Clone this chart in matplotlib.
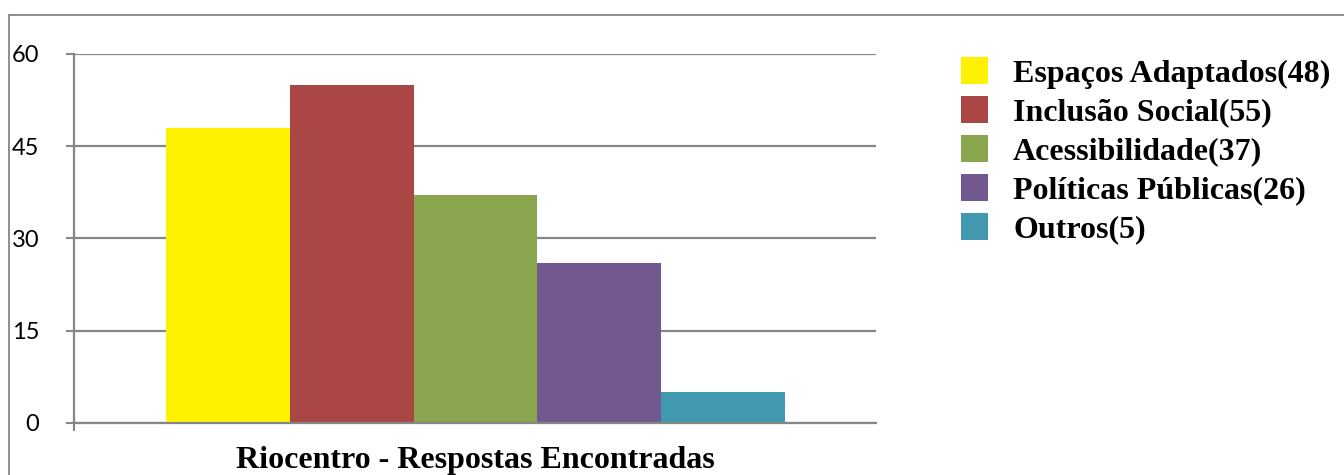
import matplotlib
matplotlib.use("Agg")
import matplotlib.pyplot as plt
from matplotlib.patches import Patch
from matplotlib.lines import Line2D
import numpy as np

# Data
categories = ["Espaços Adaptados", "Inclusão Social", "Acessibilidade",
              "Políticas Públicas", "Outros"]
values = [48, 55, 37, 26, 5]
colors = ["#FFF200", "#AA4643", "#89A54E", "#71588F", "#4198AF"]
y_ticks = [0, 15, 30, 45, 60]
group_label = "Riocentro - Respostas Encontradas"

GRAY = "#868686"
W, H = 1344, 475
fig = plt.figure(figsize=(W / 100, H / 100), dpi=100)

# Outer chart frame (top and left edges visible)
fig.add_artist(Line2D([9 / W, 1.0], [1 - 15 / H, 1 - 15 / H], color=GRAY, lw=1.3,
                      transform=fig.transFigure))
fig.add_artist(Line2D([9 / W, 9 / W], [0, 1 - 15 / H], color=GRAY, lw=1.3,
                      transform=fig.transFigure))

left, right = 74 / W, 876 / W
bottom, top = 1 - 422.7 / H, 1 - 54 / H
ax = fig.add_axes([left, bottom, right - left, top - bottom])

x = np.arange(len(values))
ax.bar(x, values, width=1.0, color=colors, zorder=3)

xmin, xmax = -1.242, 5.234
ax.set_xlim(xmin, xmax)
ax.set_ylim(0, 60)

ax.set_yticks(y_ticks)
ax.set_yticklabels([str(v) for v in y_ticks], family="Lato", fontsize=17)
ax.yaxis.grid(True, color=GRAY, lw=1.6, zorder=0)
ax.tick_params(axis="y", length=6, width=1.5, color=GRAY, pad=19, direction="out")

ax.set_xticks([xmin])
ax.set_xticklabels([""])
ax.tick_params(axis="x", length=5.5, width=1.5, color=GRAY, direction="out")
ax.set_xlabel(group_label, family="Liberation Serif", fontweight="bold",
              fontsize=23, labelpad=8)

for s in ("top", "right"):
    ax.spines[s].set_visible(False)
for s in ("left", "bottom"):
    ax.spines[s].set_color(GRAY)
    ax.spines[s].set_linewidth(1.6)
ax.spines["bottom"].set_zorder(4)

handles = [Patch(facecolor=c, edgecolor="none") for c in colors]
labels = [f"{c}({v})" for c, v in zip(categories, values)]
fig.legend(handles, labels, loc="upper left",
           bbox_to_anchor=(961 / W, 1 - 57 / H), frameon=False,
           prop={"family": "Liberation Serif", "weight": "bold", "size": 23},
           handlelength=0.85, handleheight=0.94, handletextpad=0.78,
           labelspacing=0.23, borderpad=0, borderaxespad=0)

fig.savefig("out.png", dpi=100)
